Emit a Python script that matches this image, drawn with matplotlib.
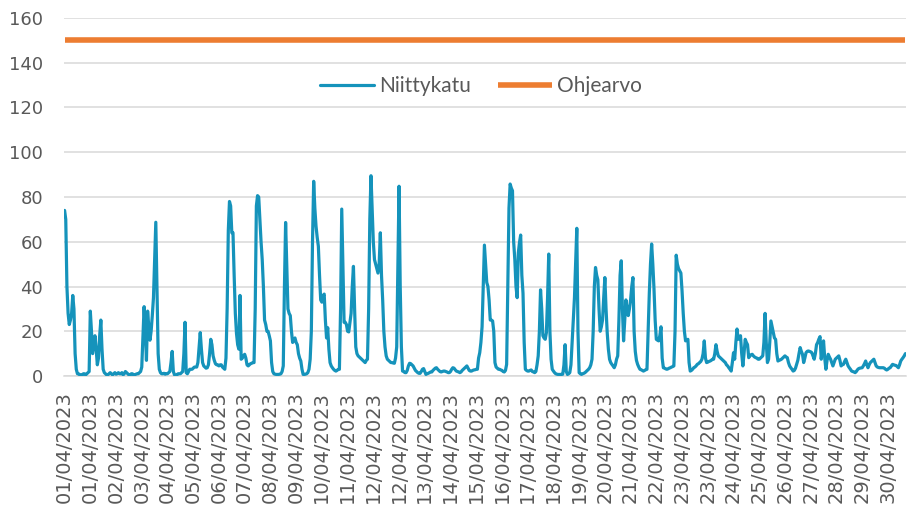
import matplotlib
matplotlib.use("Agg")
import matplotlib.pyplot as plt
import numpy as np

# Hourly values, April 2023 (one line per day, 24 values)
niittykatu = [
    74, 70, 40, 28, 23, 25, 28, 36, 30, 10, 3, 1, 1, 0.5, 0.5, 0.5, 1, 1, 0.5, 1, 1.5, 2, 29, 20,
    10, 14, 18, 12, 5, 8, 18, 25, 12, 3, 1.5, 1, 0.5, 0.5, 1, 1.5, 1, 0.5, 1, 1.5, 0.8, 1, 1.5, 1,
    1, 1.5, 0.5, 1, 2, 1.5, 1, 0.5, 0.5, 1, 1, 0.5, 0.5, 0.8, 1, 1, 1.5, 2, 4, 18, 31, 20, 7, 29,
    22, 16, 20, 27, 35, 52, 68.7, 40, 10, 3, 1.5, 1, 1, 1.2, 0.8, 1, 1, 1.5, 2, 6, 11, 2, 0.5, 0.5,
    0.5, 1, 1, 1, 1.5, 2, 10, 24, 1.5, 1, 2, 3, 3, 3, 3.5, 4, 4, 4, 6, 13, 19.4, 12, 6, 4.5,
    4, 3.5, 3.7, 5, 10, 16.4, 14, 9, 7, 5.5, 5, 5, 4.5, 5, 5, 4, 3.5, 3, 8, 30, 65, 78, 76, 64,
    64, 45, 28, 19, 14, 12, 36, 7.5, 8, 9, 9.7, 8, 5, 4.5, 5, 5.5, 5.7, 6, 6, 30, 76, 80.6, 80, 70,
    60, 52, 40, 25, 23, 20, 20, 18, 15.7, 6, 2, 1, 0.8, 0.7, 0.7, 0.7, 0.8, 1, 2, 4.5, 40, 68.6, 50, 30,
    28, 27, 20, 15, 16, 17, 15, 14, 10, 8, 6.7, 3, 0.7, 0.7, 0.8, 1, 1.5, 3, 7.5, 20, 60, 87, 75, 67,
    62, 58, 45, 34, 33, 36, 36.6, 25, 17, 21.6, 12, 6, 4.5, 3.7, 3, 2.5, 2.2, 2.5, 3, 3, 30, 74.6, 50, 24,
    24, 23, 20, 19.7, 24, 28, 40, 49, 30, 13, 10, 9, 8.5, 8, 7.5, 7, 6.5, 6, 7, 7.5, 30, 70, 89.5, 75,
    60, 52, 50, 48, 46, 50, 64, 45, 34, 20, 13, 9, 7.5, 7, 6.5, 6, 6, 5.8, 5.7, 8, 13, 50, 84.8, 40,
    13, 2.2, 2, 1.5, 1.5, 2.5, 4.5, 5.7, 5.5, 5, 4.5, 3.5, 2.5, 2, 1.5, 1.2, 1.2, 2, 3, 3.3, 2, 0.7, 1, 1.2,
    1.5, 1.8, 1.8, 2.5, 3, 3.5, 3.7, 3, 2.5, 2, 1.8, 2, 2.2, 2.2, 2, 1.8, 1.5, 1.5, 2, 3, 3.7, 3.5, 2.8, 2.2,
    2, 1.8, 1.5, 1.8, 2.5, 3, 3.5, 4, 4.5, 3.5, 2.5, 2.2, 2.2, 2.5, 2.7, 2.8, 3, 3, 8, 10.4, 15, 22, 40, 58.5,
    50, 41.8, 40, 34, 25, 25, 24.6, 20, 6, 4, 3.5, 3, 3, 2.7, 2.5, 2, 1.8, 2.5, 5.2, 40, 75, 85.8, 84, 82.8,
    60, 52, 40, 35, 55, 59.7, 63, 45, 37, 15, 3, 2.5, 2.2, 2.2, 2.5, 2.7, 2, 1.8, 1.5, 2, 5, 9, 20, 38.5,
    30, 18, 17, 16.4, 19.4, 35, 54.5, 20, 7.5, 3, 2.2, 1.5, 1, 0.8, 0.7, 0.7, 0.7, 0.7, 0.8, 5, 14, 2, 0.7, 1,
    1.5, 5, 15, 25, 35, 50, 66, 20, 1.5, 1, 0.7, 1, 1.2, 1.5, 2, 2.5, 3, 3.7, 5, 7.5, 20, 40, 48.5, 45,
    43, 30, 20, 22, 25, 35, 44, 30, 19.4, 12, 7.5, 6, 5.2, 4.5, 3.7, 5, 7.5, 9, 25, 45, 51.5, 30, 15.7, 25,
    34, 30, 27, 30, 34, 40, 44, 20, 11, 7, 5.2, 4, 3, 2.8, 2.5, 2.2, 2.5, 2.8, 3, 20, 37, 50, 59, 50,
    39, 25, 16.4, 16, 15.7, 18, 22, 8, 3.7, 3.5, 3.2, 3, 3.2, 3.5, 3.7, 4, 4.2, 4.5, 20, 54, 50, 48, 47, 46,
    38, 28, 20, 15.7, 16, 16.4, 6, 2.2, 2.5, 3, 3.7, 4, 4.5, 5.2, 5.5, 6, 6.5, 7.5, 10, 15.7, 8, 6, 6.2, 6.5,
    6.7, 7, 7.5, 7.5, 10, 14, 11, 9, 8.5, 8, 7.5, 7, 6.5, 6, 5, 4.5, 3.7, 3, 2.2, 6, 10.4, 7.5, 15, 21,
    16.4, 17, 18, 10, 4.5, 10, 16.4, 15, 14, 8.2, 9, 9.5, 9.7, 9, 8.5, 8.2, 8, 7.5, 7.5, 8, 8.5, 9, 15, 28,
    15, 6, 7.5, 15, 24.6, 22, 19.4, 17, 16.4, 10, 6.7, 7, 7.2, 7.5, 8, 8.5, 9, 8.5, 8.2, 6, 4.5, 3.7, 3, 2.2,
    2.5, 3.5, 5.2, 7, 10, 12.7, 11, 9.7, 6, 8, 10.4, 11, 11.2, 11, 10.8, 10.4, 9, 7.5, 10, 14, 15, 16.5, 17.6, 7.5,
    12, 15.7, 8, 3, 7, 9.7, 8.5, 7.5, 6, 4.5, 6, 7.5, 8, 8.5, 9, 7, 4.5, 5, 5.2, 6.5, 7.5, 6, 4.5, 3.7,
    3, 2.2, 2, 1.8, 1.5, 2, 2.8, 3.3, 3.5, 3.6, 3.7, 4.5, 5.5, 6.7, 5, 3.7, 5, 6, 6.5, 7, 7.5, 6, 4.5, 4,
    3.8, 3.7, 3.7, 3.7, 3.7, 3.5, 3, 2.7, 3, 3.5, 3.7, 4.5, 5.2, 5, 4.8, 4.7, 4.2, 3.7, 5, 6.7, 7.5, 8.2, 9, 10,
]
ohjearvo_value = 150

tick_labels = [
    "01/04/2023", "01/04/2023", "02/04/2023", "03/04/2023", "04/04/2023", "05/04/2023",
    "06/04/2023", "07/04/2023", "08/04/2023", "09/04/2023", "10/04/2023", "11/04/2023",
    "12/04/2023", "12/04/2023", "13/04/2023", "14/04/2023", "15/04/2023", "16/04/2023",
    "17/04/2023", "18/04/2023", "19/04/2023", "20/04/2023", "21/04/2023", "22/04/2023",
    "23/04/2023", "23/04/2023", "24/04/2023", "25/04/2023", "26/04/2023", "27/04/2023",
    "28/04/2023", "29/04/2023", "30/04/2023",
]
tick_step = 22

n = len(niittykatu)
x = np.arange(n)
ohjearvo = [ohjearvo_value] * n

blue = "#1593BB"
orange = "#ED7D31"
grey_text = "#595959"
grid_col = "#D9D9D9"

fig = plt.figure(figsize=(9.22, 5.12), dpi=100)
ax = fig.add_axes([64 / 922, 1 - 376 / 512, (906 - 64) / 922, (376 - 18) / 512])

ax.plot(x, niittykatu, color=blue, lw=2.3, solid_joinstyle="round",
        solid_capstyle="round", label="Niittykatu", zorder=3)
ax.plot(x, ohjearvo, color=orange, lw=4.0, solid_capstyle="butt",
        label="Ohjearvo", zorder=3)

ax.set_xlim(-0.5, n - 0.5)
ax.set_ylim(0, 160)
ax.set_yticks(np.arange(0, 161, 20))
ax.yaxis.grid(True, color=grid_col, lw=1.1)
ax.set_axisbelow(True)
for s in ["top", "right", "left"]:
    ax.spines[s].set_visible(False)
ax.spines["bottom"].set_color(grid_col)
ax.spines["bottom"].set_linewidth(1.1)

ax.set_xticks(np.arange(len(tick_labels)) * tick_step)
ax.set_xticklabels(tick_labels, rotation=90, fontsize=14, color=grey_text,
                   family="DejaVu Sans")
ax.tick_params(axis="x", length=0, pad=11)
ax.tick_params(axis="y", length=0, pad=15, labelsize=13, labelcolor=grey_text)

leg = ax.legend(loc="center", bbox_to_anchor=(481 / 922, 1 - 86 / 512),
                bbox_transform=fig.transFigure, ncol=2, frameon=True,
                facecolor="white", edgecolor="none", framealpha=1,
                prop={"family": "Lato", "size": 15}, handlelength=2.6,
                handletextpad=0.25, columnspacing=1.3, borderpad=0.2)
for t in leg.get_texts():
    t.set_color(grey_text)

fig.savefig("out.png", dpi=100)
